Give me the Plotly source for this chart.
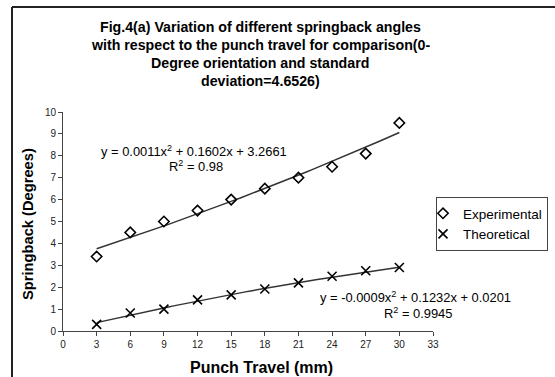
import numpy as np
import plotly.graph_objects as go

punch_travel = [3, 6, 9, 12, 15, 18, 21, 24, 27, 30]
experimental = [3.4, 4.5, 5.0, 5.5, 6.0, 6.5, 7.0, 7.5, 8.1, 9.5]
theoretical = [0.3, 0.82, 1.0, 1.42, 1.65, 1.92, 2.2, 2.5, 2.75, 2.9]
exp_coef = [0.0011, 0.1602, 3.2661]
theo_coef = [-0.0009, 0.1232, 0.0201]
x_ticks = list(range(0, 34, 3))
y_ticks = list(range(0, 11, 1))

W, H = 555, 377
L, R, T, B = 63, 122, 112, 46
pw, ph = W - L - R, H - T - B

def px(xp):
    return (xp - L) / pw

def py(yp):
    return (H - B - yp) / ph

FONT = "Arial, Liberation Sans, sans-serif"
xs = np.linspace(min(punch_travel), max(punch_travel), 60)

fig = go.Figure()
fig.add_trace(go.Scatter(x=xs, y=np.polyval(exp_coef, xs), mode="lines",
                         line=dict(color="#333", width=1.5), showlegend=False, hoverinfo="skip"))
fig.add_trace(go.Scatter(x=xs, y=np.polyval(theo_coef, xs), mode="lines",
                         line=dict(color="#333", width=1.5), showlegend=False, hoverinfo="skip"))
fig.add_trace(go.Scatter(x=punch_travel, y=experimental, mode="markers", name="Experimental",
                         marker=dict(symbol="diamond-open", size=8, color="black", line=dict(width=1.6))))
fig.add_trace(go.Scatter(x=punch_travel, y=theoretical, mode="markers", name="Theoretical",
                         marker=dict(symbol="x-thin-open", size=9, color="black", line=dict(width=1.6))))

title_lines = ["Fig.4(a) Variation of different springback angles",
               "with respect to the punch travel for comparison(0-",
               "Degree orientation and standard",
               "deviation=4.6526)"]
title_y = [27, 45, 63, 81]
annotations = []
for t, yv in zip(title_lines, title_y):
    annotations.append(dict(text="<b>%s</b>" % t, x=px(260), y=py(yv), xref="paper", yref="paper",
                            showarrow=False, xanchor="center", yanchor="middle",
                            font=dict(family=FONT, size=14.2, color="black")))
annotations += [
    dict(text="<b>Springback (Degrees)</b>", x=px(28), y=py(224), xref="paper", yref="paper",
         showarrow=False, textangle=-90, xanchor="center", yanchor="middle",
         font=dict(family=FONT, size=14.7, color="black")),
    dict(text="<b>Punch Travel (mm)</b>", x=px(261), y=py(367), xref="paper", yref="paper",
         showarrow=False, xanchor="center", yanchor="middle",
         font=dict(family=FONT, size=16, color="black")),
    dict(text="y = 0.0011x<sup>2</sup> + 0.1602x + 3.2661", x=px(194), y=py(151), xref="paper", yref="paper",
         showarrow=False, xanchor="center", yanchor="middle", font=dict(family=FONT, size=12.9, color="black")),
    dict(text="R<sup>2</sup> = 0.98", x=px(196), y=py(166), xref="paper", yref="paper",
         showarrow=False, xanchor="center", yanchor="middle", font=dict(family=FONT, size=12.9, color="black")),
    dict(text="y = -0.0009x<sup>2</sup> + 0.1232x + 0.0201", x=px(415), y=py(297), xref="paper", yref="paper",
         showarrow=False, xanchor="center", yanchor="middle", font=dict(family=FONT, size=12.9, color="black")),
    dict(text="R<sup>2</sup> = 0.9945", x=px(418), y=py(313), xref="paper", yref="paper",
         showarrow=False, xanchor="center", yanchor="middle", font=dict(family=FONT, size=12.9, color="black")),
]

shapes = [
    dict(type="line", xref="paper", yref="paper", x0=px(12), x1=px(560), y0=py(7), y1=py(7),
         line=dict(color="#222", width=2)),
    dict(type="line", xref="paper", yref="paper", x0=px(12), x1=px(12), y0=py(7), y1=py(380),
         line=dict(color="#222", width=2)),
]

fig.update_layout(
    width=W, height=H, margin=dict(l=L, r=R, t=T, b=B, autoexpand=False),
    paper_bgcolor="white", plot_bgcolor="white",
    font=dict(family=FONT, color="black"),
    annotations=annotations, shapes=shapes,
    legend=dict(x=px(436), y=py(197), xanchor="left", yanchor="top",
                bordercolor="#444", borderwidth=1, bgcolor="white",
                font=dict(family=FONT, size=13.5, color="black"),
                itemwidth=30, tracegroupgap=0, indentation=-14),
    xaxis=dict(range=[0, 33], tickvals=x_ticks, showgrid=False, zeroline=False,
               showline=True, linecolor="#444", linewidth=1, ticks="outside", ticklen=4,
               tickcolor="#444", tickfont=dict(size=10, color="#222"), fixedrange=True),
    yaxis=dict(range=[0, 10], tickvals=y_ticks, showgrid=False, zeroline=False,
               showline=True, linecolor="#444", linewidth=1, ticks="outside", ticklen=4,
               tickcolor="#444", tickfont=dict(size=10, color="#222"), fixedrange=True),
)

fig.write_html("out.html", config={"displayModeBar": False},
               post_script="document.body.style.margin='0';")
